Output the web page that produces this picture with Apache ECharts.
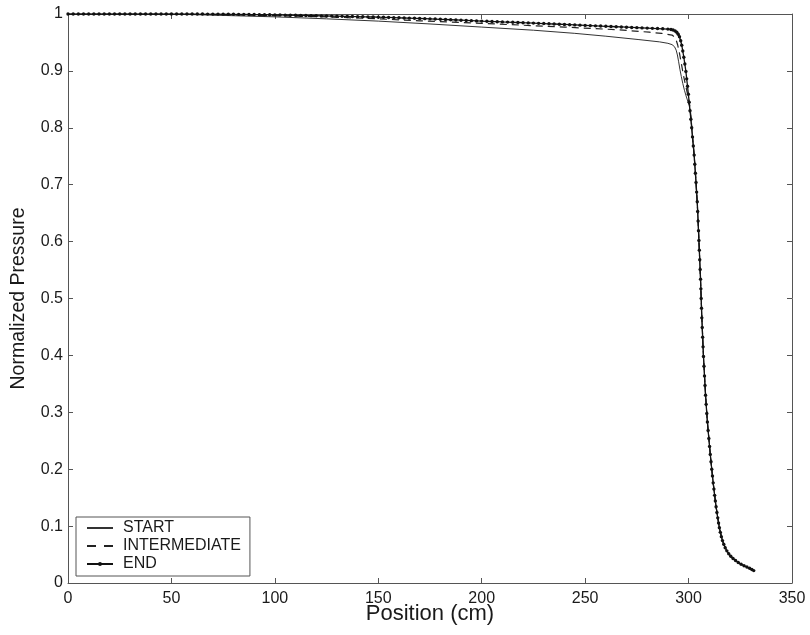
<!DOCTYPE html>
<html>
<head>
<meta charset="utf-8">
<title>Normalized Pressure vs Position</title>
<script src="https://cdn.jsdelivr.net/npm/echarts@6/dist/echarts.min.js"></script>
<style>
  html, body { margin: 0; padding: 0; background: #fff; }
  #chart { width: 810px; height: 635px; }
</style>
</head>
<body>
<div id="chart"></div>
<script>
// Axis tick values
const xTicks = [0, 50, 100, 150, 200, 250, 300, 350];
const yTicks = [0, 0.1, 0.2, 0.3, 0.4, 0.5, 0.6, 0.7, 0.8, 0.9, 1];

const seriesNames = ['START', 'INTERMEDIATE', 'END'];

// START profile: [position (cm), normalized pressure]
const startCurve = [
  [0, 1.0], [20, 1.0], [40, 0.9998], [60, 0.999], [80, 0.997], [100, 0.995],
  [125, 0.9915], [150, 0.9875], [175, 0.9825], [200, 0.977], [225, 0.9715],
  [245, 0.966], [260, 0.961], [276, 0.955], [286, 0.951], [290, 0.9485], [292, 0.9462],
  [293.2, 0.9425], [294.0, 0.9365], [294.6, 0.928], [295.2, 0.916], [295.8, 0.903],
  [296.5, 0.890], [297.2, 0.878], [298.0, 0.866], [298.8, 0.856], [299.6, 0.847],
  [300.3, 0.839], [300.9, 0.826], [301.3, 0.810], [301.9, 0.784], [302.7, 0.752],
  [303.6, 0.704], [304.4, 0.653], [305.2, 0.585], [306.1, 0.500], [307.0, 0.415],
  [307.95, 0.347], [309.1, 0.283], [310.5, 0.226], [311.9, 0.176], [313.3, 0.134],
  [314.9, 0.097], [316.4, 0.0745], [318.5, 0.0565], [320.4, 0.047], [322.7, 0.0395],
  [325.4, 0.033], [328.2, 0.028], [331.5, 0.0218]
];

// INTERMEDIATE profile
const midCurve = [
  [0, 1.0], [30, 1.0], [60, 0.9995], [80, 0.9985], [100, 0.997], [125, 0.995],
  [150, 0.9915], [170, 0.988], [200, 0.9835], [220, 0.9803], [240, 0.977],
  [265, 0.9725], [281, 0.968], [287, 0.966], [292, 0.963], [293.2, 0.9595],
  [294.0, 0.954], [294.7, 0.946], [295.4, 0.935], [296.1, 0.921], [296.8, 0.907],
  [297.5, 0.893], [298.3, 0.879], [299.1, 0.866], [299.9, 0.853], [300.6, 0.838],
  [301.2, 0.818], [301.9, 0.784], [302.7, 0.752], [303.6, 0.704], [304.4, 0.653],
  [305.2, 0.585], [306.1, 0.500], [307.0, 0.415], [307.95, 0.347], [309.1, 0.283],
  [310.5, 0.226], [311.9, 0.176], [313.3, 0.134], [314.9, 0.097], [316.4, 0.0745],
  [318.5, 0.0565], [320.4, 0.047], [322.7, 0.0395], [325.4, 0.033], [328.2, 0.028],
  [331.5, 0.0218]
];

// END profile, one entry per grid node
const endCurve = [
  [0, 1.0], [2.5, 1.0], [5, 1.0], [7.5, 1.0], [10, 1.0], [12.5, 1.0], [15, 1.0],
  [17.5, 1.0], [20, 1.0], [22.5, 1.0], [25, 1.0], [27.5, 1.0], [30, 1.0], [32.5, 1.0],
  [35, 1.0], [37.5, 1.0], [40, 1.0], [42.5, 1.0], [45, 1.0], [47.5, 1.0], [50, 1.0],
  [52.5, 1.0], [55, 1.0], [57.5, 1.0], [60, 1.0], [62.5, 0.9999], [65, 0.9999],
  [67.5, 0.9998], [70, 0.9998], [72.5, 0.9998], [75, 0.9997], [77.5, 0.9997],
  [80, 0.9995], [82.5, 0.9994], [85, 0.9993], [87.5, 0.9991], [90, 0.999],
  [92.5, 0.9989], [95, 0.9988], [97.5, 0.9986], [100, 0.9985], [102.5, 0.9983],
  [105, 0.9981], [107.5, 0.9979], [110, 0.9977], [112.5, 0.9975], [115, 0.9973],
  [117.5, 0.9971], [120, 0.9969], [122.5, 0.9967], [125, 0.9965], [127.5, 0.9963],
  [130, 0.9961], [132.5, 0.9959], [135, 0.9957], [137.5, 0.9955], [140, 0.9953],
  [142.5, 0.9951], [145, 0.9949], [147.5, 0.9947], [150, 0.9945], [152.5, 0.9942],
  [155, 0.9939], [157.5, 0.9936], [160, 0.9933], [162.5, 0.993], [165, 0.9927],
  [167.5, 0.9924], [170, 0.9921], [172.5, 0.9918], [175, 0.9915], [177.5, 0.9911],
  [180, 0.9907], [182.5, 0.9903], [185, 0.9899], [187.5, 0.9895], [190, 0.9891],
  [192.5, 0.9887], [195, 0.9883], [197.5, 0.9879], [200, 0.9875], [202.5, 0.9872],
  [205, 0.9868], [207.5, 0.9865], [210, 0.9861], [212.5, 0.9858], [215, 0.9854],
  [217.5, 0.9851], [220, 0.9847], [222.5, 0.9844], [225, 0.984], [227.5, 0.9836],
  [230, 0.9832], [232.5, 0.9828], [235, 0.9824], [237.5, 0.982], [240, 0.9816],
  [242.5, 0.9812], [245, 0.9808], [247.5, 0.9804], [250, 0.98], [252.5, 0.9796],
  [255, 0.9792], [257.5, 0.9788], [260, 0.9784], [262.5, 0.978], [265, 0.9776],
  [267.5, 0.9772], [270, 0.9768], [272.5, 0.9764], [275, 0.976], [277.5, 0.9756],
  [280, 0.9752], [282.5, 0.9748], [285, 0.9744], [287.5, 0.974], [290, 0.9735],
  [291.5, 0.9728], [292.5, 0.9718], [293.5, 0.9702], [294.3, 0.968], [295.0, 0.9645],
  [295.6, 0.96], [296.2, 0.953], [296.7, 0.945], [297.2, 0.935], [297.7, 0.924],
  [298.2, 0.912], [298.7, 0.899], [299.1, 0.886], [299.5, 0.873], [299.9, 0.859],
  [300.3, 0.845], [300.7, 0.83], [301.1, 0.815], [301.5, 0.8], [301.9, 0.784],
  [302.3, 0.768], [302.7, 0.752], [303.0, 0.736], [303.3, 0.72], [303.6, 0.704],
  [303.9, 0.687], [304.2, 0.67], [304.4, 0.653], [304.6, 0.636], [304.8, 0.619],
  [305.0, 0.602], [305.2, 0.585], [305.4, 0.568], [305.6, 0.551], [305.8, 0.534],
  [305.95, 0.517], [306.1, 0.5], [306.25, 0.483], [306.4, 0.466], [306.6, 0.449],
  [306.8, 0.432], [307.0, 0.415], [307.2, 0.398], [307.45, 0.381], [307.7, 0.364],
  [307.95, 0.347], [308.2, 0.33], [308.5, 0.314], [308.8, 0.298], [309.1, 0.283],
  [309.45, 0.268], [309.8, 0.254], [310.15, 0.24], [310.5, 0.226], [310.85, 0.213],
  [311.2, 0.2], [311.55, 0.188], [311.9, 0.176], [312.25, 0.165], [312.6, 0.154],
  [312.95, 0.144], [313.3, 0.134], [313.7, 0.124], [314.1, 0.1145], [314.5, 0.1055],
  [314.9, 0.097], [315.35, 0.089], [315.85, 0.0815], [316.4, 0.0745], [317.0, 0.068],
  [317.7, 0.062], [318.5, 0.0565], [319.4, 0.0515], [320.4, 0.047], [321.5, 0.043],
  [322.7, 0.0395], [324.0, 0.036], [325.4, 0.033], [326.8, 0.0303], [328.2, 0.028],
  [329.5, 0.0258], [330.6, 0.0236], [331.5, 0.0218]
];

const FONT = '"Liberation Sans", Arial, Helvetica, sans-serif';
const AXIS_COLOR = '#555';
const TEXT_COLOR = '#1a1a1a';

const chart = echarts.init(document.getElementById('chart'), null, { renderer: 'canvas' });

// Shared look for the box axes (ticks drawn on the inside, MATLAB style)
function boxAxis(extra) {
  return Object.assign({
    type: 'value',
    axisLine: { show: true, onZero: false, lineStyle: { color: AXIS_COLOR, width: 1 } },
    axisTick: { show: true, inside: true, length: 5, lineStyle: { color: AXIS_COLOR, width: 1 } },
    splitLine: { show: false }
  }, extra);
}

const xRange = { min: xTicks[0], max: xTicks[xTicks.length - 1], interval: xTicks[1] - xTicks[0] };
const yRange = { min: yTicks[0], max: yTicks[yTicks.length - 1], interval: 0.1 };

chart.setOption({
  animation: false,
  backgroundColor: '#fff',
  textStyle: { fontFamily: FONT },
  grid: { left: 68, right: 18, top: 14, bottom: 52, containLabel: false },
  legend: {
    orient: 'vertical',
    left: 76,
    top: 517,
    // plain line samples for START / INTERMEDIATE, line with a dot for END
    data: [
      { name: seriesNames[0], itemStyle: { opacity: 0 } },
      { name: seriesNames[1], itemStyle: { opacity: 0 }, lineStyle: { type: [9, 8] } },
      { name: seriesNames[2] }
    ],
    backgroundColor: '#fff',
    borderColor: AXIS_COLOR,
    borderWidth: 1,
    borderRadius: 0,
    padding: [2, 9, 3, 10],
    itemWidth: 26,
    itemHeight: 5,
    itemGap: 0,
    selectedMode: false,
    textStyle: { fontFamily: FONT, fontSize: 16, color: TEXT_COLOR, lineHeight: 18, padding: [0, 0, 0, 5] }
  },
  xAxis: [
    boxAxis(Object.assign({
      position: 'bottom',
      name: 'Position (cm)',
      nameLocation: 'middle',
      nameGap: 20,
      nameMoveOverlap: false,
      nameTextStyle: { fontFamily: FONT, fontSize: 22, color: TEXT_COLOR },
      axisLabel: { show: true, margin: 8, fontFamily: FONT, fontSize: 16, color: TEXT_COLOR }
    }, xRange)),
    boxAxis(Object.assign({ position: 'top', axisLabel: { show: false } }, xRange))
  ],
  yAxis: [
    boxAxis(Object.assign({
      position: 'left',
      name: 'Normalized Pressure',
      nameLocation: 'middle',
      nameGap: 39,
      nameMoveOverlap: false,
      nameTextStyle: { fontFamily: FONT, fontSize: 19.5, color: TEXT_COLOR },
      axisLabel: {
        show: true, margin: 5, fontFamily: FONT, fontSize: 16, color: TEXT_COLOR,
        formatter: v => String(Math.round(v * 10) / 10)
      }
    }, yRange)),
    boxAxis(Object.assign({ position: 'right', axisLabel: { show: false } }, yRange))
  ],
  series: [
    {
      name: seriesNames[0], type: 'line', data: startCurve,
      xAxisIndex: 0, yAxisIndex: 0,
      showSymbol: false, symbol: 'none', smooth: false,
      lineStyle: { color: '#333', width: 1 },
      itemStyle: { color: '#333' },
      z: 2
    },
    {
      name: seriesNames[1], type: 'line', data: midCurve,
      xAxisIndex: 0, yAxisIndex: 0,
      showSymbol: false, symbol: 'none',
      lineStyle: { color: '#222', width: 1.2, type: [7, 5] },
      itemStyle: { color: '#222' },
      z: 3
    },
    {
      name: seriesNames[2], type: 'line', data: endCurve,
      xAxisIndex: 0, yAxisIndex: 0,
      showSymbol: true, showAllSymbol: true,
      symbol: 'circle', symbolSize: 3.4,
      lineStyle: { color: '#111', width: 1.3 },
      itemStyle: { color: '#111' },
      z: 4
    }
  ]
});
</script>
</body>
</html>
